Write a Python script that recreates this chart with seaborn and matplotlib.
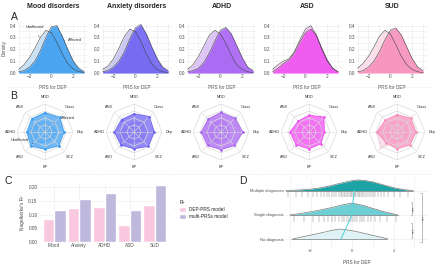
import numpy as np
import pandas as pd
import matplotlib
matplotlib.use("Agg")
import matplotlib.pyplot as plt
import seaborn as sns

# ---------------- data ----------------
titles = ["Mood disorders", "Anxiety disorders", "ADHD", "ASD", "SUD"]
short_names = ["Mood", "Anxiety", "ADHD", "ASD", "SUD"]

# panel A: density of PRS for DEP
prs_grid = [-3.0, -2.5, -2.0, -1.5, -1.0, -0.5, 0.0, 0.5, 1.0, 1.5, 2.0, 2.5, 3.0]
mood_unaff = [0.03, 0.07, 0.13, 0.21, 0.30, 0.36, 0.34, 0.26, 0.16, 0.08, 0.035, 0.012, 0.004]
mood_aff = [0.01, 0.02, 0.05, 0.10, 0.19, 0.30, 0.39, 0.40, 0.31, 0.20, 0.10, 0.04, 0.012]
anx_unaff = [0.03, 0.06, 0.12, 0.21, 0.31, 0.37, 0.35, 0.27, 0.16, 0.08, 0.03, 0.01, 0.004]
anx_aff = [0.01, 0.02, 0.05, 0.10, 0.18, 0.29, 0.38, 0.41, 0.33, 0.22, 0.12, 0.05, 0.02]
adhd_unaff = [0.03, 0.07, 0.14, 0.23, 0.32, 0.36, 0.33, 0.25, 0.15, 0.07, 0.03, 0.01, 0.004]
adhd_aff = [0.01, 0.02, 0.04, 0.09, 0.17, 0.27, 0.36, 0.385, 0.33, 0.23, 0.13, 0.05, 0.02]
asd_unaff = [0.03, 0.07, 0.10, 0.12, 0.18, 0.28, 0.37, 0.40, 0.32, 0.20, 0.10, 0.04, 0.01]
asd_aff = [0.01, 0.04, 0.08, 0.11, 0.17, 0.26, 0.34, 0.37, 0.32, 0.21, 0.11, 0.04, 0.01]
sud_unaff = [0.04, 0.08, 0.14, 0.22, 0.31, 0.36, 0.33, 0.24, 0.14, 0.07, 0.03, 0.01, 0.004]
sud_aff = [0.01, 0.02, 0.05, 0.10, 0.18, 0.28, 0.36, 0.38, 0.32, 0.22, 0.12, 0.05, 0.02]

# panel B: radar (scaled 0-1), clockwise from top
radar_axes = ["MDD", "Cross", "Dep", "SCZ", "BP", "ASD", "ADHD", "ANX"]
mood_radar_aff = [0.69, 0.74, 0.68, 0.70, 0.62, 0.71, 0.65, 0.67]
mood_radar_unaff = [0.38, 0.35, 0.42, 0.35, 0.36, 0.60, 0.58, 0.42]
anx_radar_aff = [0.65, 0.78, 0.72, 0.72, 0.60, 0.66, 0.70, 0.63]
anx_radar_unaff = [0.35, 0.45, 0.45, 0.45, 0.35, 0.65, 0.50, 0.35]
adhd_radar_aff = [0.70, 0.70, 0.78, 0.68, 0.63, 0.68, 0.70, 0.65]
adhd_radar_unaff = [0.45, 0.35, 0.30, 0.35, 0.40, 0.55, 0.60, 0.40]
asd_radar_aff = [0.60, 0.75, 0.55, 0.60, 0.60, 0.65, 0.68, 0.55]
asd_radar_unaff = [0.40, 0.55, 0.50, 0.50, 0.45, 0.55, 0.50, 0.40]
sud_radar_aff = [0.62, 0.70, 0.68, 0.66, 0.60, 0.55, 0.72, 0.60]
sud_radar_unaff = [0.40, 0.45, 0.40, 0.40, 0.35, 0.85, 0.70, 0.45]

# panel C: Nagelkerke's R2
r2_dep = [0.083, 0.125, 0.127, 0.063, 0.134]
r2_multi = [0.118, 0.157, 0.178, 0.115, 0.208]
model_names = ["DEP-PRS model", "multi-PRSs model"]

# panel D: ridges by number of diagnoses
ridge_rows = ["No diagnosis", "Single diagnosis", "Multiple diagnoses"]
no_x = [-2.9, -2.5, -2.0, -1.5, -1.0, -0.6, -0.2, 0.3, 0.8, 1.3, 1.7, 1.7]
no_h = [0.0, 0.08, 0.17, 0.26, 0.36, 0.42, 0.38, 0.30, 0.20, 0.10, 0.05, 0.0]
single_x = [-3.0, -2.5, -2.0, -1.5, -1.0, -0.5, 0.0, 0.5, 1.0, 1.5, 2.0, 2.2]
single_h = [0.0, 0.06, 0.13, 0.21, 0.30, 0.41, 0.49, 0.40, 0.27, 0.14, 0.04, 0.0]
multi_x = [-3.2, -2.5, -2.0, -1.5, -1.0, -0.5, 0.0, 0.3, 0.6, 1.0, 1.5, 2.0, 2.5, 2.95]
multi_h = [0.0, 0.03, 0.06, 0.12, 0.21, 0.32, 0.41, 0.44, 0.42, 0.36, 0.24, 0.12, 0.04, 0.0]
multi_rug = [-3.1, -2.7, -2.4, -2.1, -1.9, -1.7, -1.5, -1.35, -1.2, -1.1, -0.95, -0.85,
             -0.75, -0.65, -0.55, -0.48, -0.4, -0.32, -0.25, -0.18, -0.1, -0.04, 0.02,
             0.08, 0.14, 0.2, 0.27, 0.33, 0.4, 0.47, 0.55, 0.63, 0.7, 0.8, 0.9, 1.0,
             1.12, 1.25, 1.4, 1.55, 1.75, 2.0, 2.3, 2.7]
single_rug = [-2.8, -2.3, -1.9, -1.6, -1.35, -1.15, -0.95, -0.8, -0.65, -0.5, -0.38,
              -0.26, -0.15, -0.05, 0.05, 0.15, 0.25, 0.36, 0.48, 0.6, 0.75, 0.9, 1.1,
              1.35, 1.7, 2.1]
group_means = [-0.54, 0.0, 0.1]

# ---------------- style ----------------
sns.set_theme(style="whitegrid")
plt.rcParams["font.family"] = ["Liberation Sans", "DejaVu Sans"]
TXT = "#4d4d4d"
GRID = "#ebebeb"
FS = 3.4

fig = plt.figure(figsize=(4.4, 2.64), dpi=100)


def px(l, t, w, h):
    return [l / 440, 1 - (t + h) / 264, w / 440, h / 264]


def minimal(ax):
    for s in ax.spines.values():
        s.set_visible(False)
    ax.tick_params(length=0, pad=1, labelsize=FS, labelcolor=TXT)
    ax.grid(True, which="both", color=GRID, lw=0.4)
    ax.set_axisbelow(True)


# ---------------- A: densities ----------------
dens = [(mood_unaff, mood_aff), (anx_unaff, anx_aff), (adhd_unaff, adhd_aff),
        (asd_unaff, asd_aff), (sud_unaff, sud_aff)]
c_unaff = ["#c6e1f8", "#c9c7f2", "#dcc3f7", "#f8c3f4", "#fbdde8"]
c_aff = ["#3a9cf0", "#6a5ff2", "#a55ff2", "#f04ef0", "#f78dba"]
lefts = [18, 102, 187, 272, 357]

for i, (un, af) in enumerate(dens):
    ax = fig.add_axes(px(lefts[i], 22, 70, 51))
    ax.fill_between(prs_grid, un, color=c_unaff[i], alpha=0.95, lw=0)
    ax.fill_between(prs_grid, af, color=c_aff[i], alpha=0.88, lw=0)
    sns.lineplot(x=prs_grid, y=un, ax=ax, color="#444444", lw=0.4)
    sns.lineplot(x=prs_grid, y=af, ax=ax, color="#444444", lw=0.4)
    ax.set_xlim(-3.05, 3.35)
    ax.set_ylim(0, 0.43)
    ax.set_xticks([-2, 0, 2])
    ax.set_xticks([-3, -1, 1, 3], minor=True)
    ax.set_yticks([0, 0.1, 0.2, 0.3, 0.4])
    ax.set_yticks([0.05, 0.15, 0.25, 0.35], minor=True)
    ax.set_yticklabels(["0.0", "0.1", "0.2", "0.3", "0.4"])
    minimal(ax)
    ax.set_xlabel("PRS for DEP", fontsize=FS, color=TXT, labelpad=1)
    ax.set_ylabel("Density" if i == 0 else "", fontsize=FS, color=TXT, labelpad=1)
    fig.text((lefts[i] + 35) / 440, 1 - 6 / 264, titles[i], ha="center", va="center",
             fontsize=5, fontweight="bold")
    if i == 0:
        ax.annotate("Unaffected", xy=(-1.1, 0.30), xytext=(-1.5, 0.37), fontsize=2.8,
                    color="#333333", ha="center", va="bottom",
                    arrowprops=dict(arrowstyle="-", lw=0.3, color="#333333"))
        ax.annotate("Affected", xy=(1.2, 0.27), xytext=(2.2, 0.28), fontsize=2.8,
                    color="#333333", ha="center", va="center",
                    arrowprops=dict(arrowstyle="-", lw=0.3, color="#333333"))

# ---------------- B: radars ----------------
radars = [(mood_radar_aff, mood_radar_unaff), (anx_radar_aff, anx_radar_unaff),
          (adhd_radar_aff, adhd_radar_unaff), (asd_radar_aff, asd_radar_unaff),
          (sud_radar_aff, sud_radar_unaff)]
centers = [45, 134, 221, 309, 397]
n_ax = len(radar_axes)
theta = [k * 2 * np.pi / n_ax for k in range(n_ax)]
theta_c = theta + theta[:1]

for i, (af, un) in enumerate(radars):
    ax = fig.add_axes(px(centers[i] - 28, 104, 56, 56), projection="polar")
    ax.set_theta_offset(np.pi / 2)
    ax.set_theta_direction(-1)
    ax.set_ylim(0, 1)
    ax.axis("off")
    for r in [0.25, 0.5, 0.75, 1.0]:
        ax.plot(theta_c, [r] * (n_ax + 1), color="#d9d9d9", lw=0.5)
    for t in theta:
        ax.plot([t, t], [0, 1], color="#d9d9d9", lw=0.4)
    ax.fill(theta_c, af + af[:1], color=c_aff[i], alpha=0.72, lw=0)
    ax.plot(theta_c, af + af[:1], color=c_aff[i], lw=0.6)
    ax.scatter(theta, af, s=0.8, color=c_aff[i], zorder=5)
    ax.fill(theta_c, un + un[:1], color=c_aff[i], alpha=0.25, lw=0)
    ax.plot(theta_c, un + un[:1], color=c_aff[i], lw=0.3, alpha=0.5)
    for t, name in zip(theta, radar_axes):
        ax.text(t, 1.24, name, ha="center", va="center", fontsize=2.8, color="#333333")
    if i == 0:
        ax.annotate("Affected", xy=(theta[1], 0.45), xytext=(theta[1] + 0.25, 0.95),
                    fontsize=2.8, color="#333333", ha="center", va="center",
                    arrowprops=dict(arrowstyle="-", lw=0.3, color="#333333"))
        ax.annotate("Unaffected", xy=(theta[5], 0.6), xytext=(theta[6] - 0.3, 0.95),
                    fontsize=2.8, color="#333333", ha="center", va="center",
                    arrowprops=dict(arrowstyle="-", lw=0.3, color="#333333"))

# ---------------- C: bars ----------------
bar_df = pd.DataFrame({
    "disorder": short_names * 2,
    "model": [model_names[0]] * 5 + [model_names[1]] * 5,
    "r2": r2_dep + r2_multi,
})
axc = fig.add_axes(px(39, 183, 131, 59))
sns.barplot(data=bar_df, x="disorder", y="r2", hue="model", ax=axc,
            palette=["#f9c8df", "#bdb8dc"], width=0.92, gap=0, saturation=1)
axc.set_ylim(0, 0.215)
axc.set_xlim(-0.6, 4.6)
axc.set_yticks([0, 0.05, 0.10, 0.15, 0.20])
axc.set_yticklabels(["0.00", "0.05", "0.10", "0.15", "0.20"])
minimal(axc)
axc.set_xlabel("")
axc.set_ylabel("Nagelkerke's R²", fontsize=FS, color=TXT, labelpad=2)
axc.legend(title="R²", loc="upper left", bbox_to_anchor=(1.04, 0.78), frameon=False,
           fontsize=FS, title_fontsize=3.6, handlelength=1.3, handleheight=1.3,
           labelspacing=0.35, alignment="left")

# ---------------- D: ridges ----------------
axd = fig.add_axes(px(285, 178, 143, 70))
ridges = [(no_x, no_h, "#dff3f6"), (single_x, single_h, "#6dcfd4"),
          (multi_x, multi_h, "#1ba3a6")]
for k, (xs, hs, col) in enumerate(ridges):
    top = [k + h for h in hs]
    axd.fill_between(xs, k, top, color=col, lw=0, zorder=2)
    sns.lineplot(x=xs, y=top, ax=axd, color="#7a7a7a", lw=0.5, zorder=3, sort=False)
    axd.plot([xs[0], xs[-1]], [k, k], color="#7a7a7a", lw=0.5, zorder=3)
for k, rug in [(1, single_rug), (2, multi_rug)]:
    axd.vlines(rug, k - 0.27, k - 0.03, color="#8a8a8a", lw=0.35, zorder=3)
sns.lineplot(x=group_means, y=[0, 1, 2], ax=axd, color="#5fd3dc", lw=0.8, zorder=4,
             sort=False)
axd.set_xlim(-3.23, 3.66)
axd.set_ylim(-0.36, 2.52)
axd.set_xticks([-2, 0, 2])
axd.set_xticks([-3, -1, 1, 3], minor=True)
axd.set_yticks([0, 1, 2])
axd.set_yticklabels(ridge_rows)
minimal(axd)
axd.tick_params(labelsize=3.0)
axd.set_xlabel("PRS for DEP", fontsize=FS, color=TXT, labelpad=1)
axd.set_ylabel("")
for y0, y1, xl, xt in [(1.0, 1.53, 2.9, 3.0), (0.05, 0.67, 2.9, 3.0),
                       (-0.1, 1.9, 3.35, 3.48)]:
    axd.plot([xl - 0.06, xl, xl, xl - 0.06], [y0, y0, y1, y1], color="#888888", lw=0.4)
    axd.text(xt, (y0 + y1) / 2, "***", rotation=90, ha="center", va="center",
             fontsize=3.2, color="#333333")

# ---------------- letters & separators ----------------
for lab, x, y in [("A", 14, 17), ("B", 14, 96), ("C", 8, 181), ("D", 243, 181)]:
    fig.text(x / 440, 1 - y / 264, lab, fontsize=7.5, ha="center", va="center")
for y in [87, 174]:
    fig.add_artist(plt.Line2D([0.02, 0.98], [1 - y / 264] * 2, color="#dddddd",
                              lw=0.5, ls=":"))

fig.savefig("out.png", dpi=100, facecolor="white")
